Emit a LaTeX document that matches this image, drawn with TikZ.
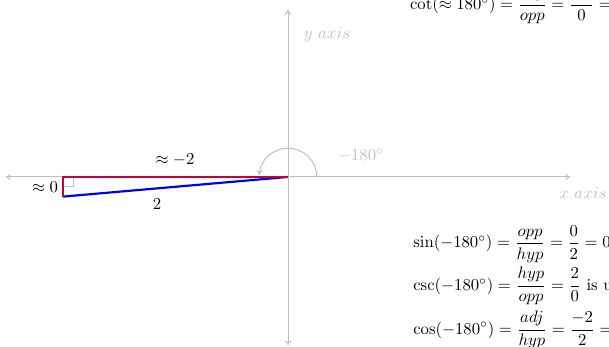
\documentclass[tikz,border=0pt]{standalone}
\usepackage{amsmath,amssymb}
\usepackage{tikz}
\usetikzlibrary{arrows.meta,calc,positioning}
\definecolor{leg}{HTML}{C4003F}
\definecolor{hyp}{HTML}{0000F0}
\definecolor{axis}{HTML}{BFBFBF}
\tikzset{
  axisline/.style={axis,line width=0.6pt,-{To[length=3pt,width=4pt]}},
  axislabel/.style={text=axis,font=\normalsize},
  side/.style={line width=1.3pt},
  eq/.style={anchor=west,inner sep=0pt}
}

\begin{document}
\begin{tikzpicture}[x=2.38cm,y=2.38cm]
  \useasboundingbox (-2.549,-1.504) rectangle (2.841,1.566);
  \clip (-2.549,-1.504) rectangle (2.841,1.566);
  % axes
  \coordinate (O) at (0,0);
  \coordinate (xl) at (-2.5,0);
  \coordinate (xr) at (2.5,0);
  \coordinate (yb) at (0,-1.49);
  \coordinate (yt) at (0,1.48);
  \draw[axisline] (O)--(xr);
  \draw[axisline] (O)--(xl);
  \draw[axisline] (O)--(yt);
  \draw[axisline] (O)--(yb);
  \node[axislabel] (xlab) at (2.61,-0.14) {$x\ axis$};
  \node[axislabel] (ylab) at (0.345,1.257) {$y\ axis$};
  % angle of about 185 degrees, hypotenuse 2
  \coordinate (A) at (-1.992,0);
  \coordinate (B) at (-1.992,-0.174);
  \draw[axis,line width=0.5pt] ($(A)+(0.09,0)$) -- ++(0,-0.082) -- ++(-0.09,0);
  \draw[axis,line width=0.6pt,-{To[length=3pt,width=4pt]}] (0.255,0) arc (0:176:0.255);
  \node[axislabel] (ang) at (0.646,0.186) {$-180^\circ$};
  \draw[side,hyp] (O) -- (B);
  \draw[side,leg] (O) -- (A) -- (B);
  \node (adjlab) at (-1.0,0.15) {$\approx -2$};
  \node (hyplab) at (-1.16,-0.24) {$2$};
  \node (opplab) at (-2.15,-0.09) {$\approx 0$};
  % ratios
  \node[eq] (cot) at (1.077,1.522) {$\cot(\approx 180^\circ) = \dfrac{adj}{opp} = \dfrac{-2}{0} = \text{undefined}$};
  \node[eq] (sin) at (1.106,-0.593) {$\sin(-180^\circ) = \dfrac{opp}{hyp} = \dfrac{0}{2} = 0$};
  \node[eq] (csc) at (1.106,-0.965) {$\csc(-180^\circ) = \dfrac{hyp}{opp} = \dfrac{2}{0}$ is undefined};
  \node[eq] (cos) at (1.106,-1.354) {$\cos(-180^\circ) = \dfrac{adj}{hyp} = \dfrac{-2}{2} = -1$};
\end{tikzpicture}
\end{document}
